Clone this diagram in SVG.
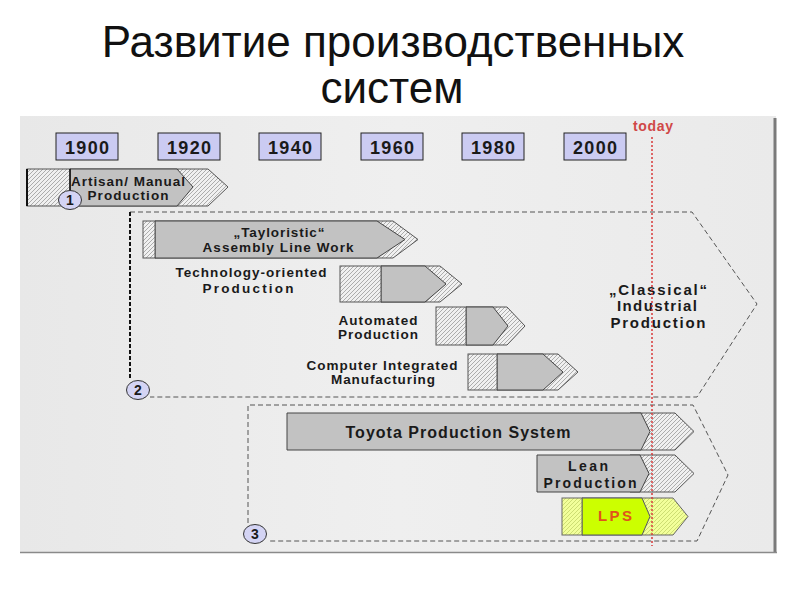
<svg xmlns="http://www.w3.org/2000/svg" width="794" height="595" viewBox="0 0 794 595">
<style>
.t{font-family:"Liberation Sans",Arial,sans-serif;font-weight:bold;fill:#1a1a1a;text-anchor:middle}
.lbl{font-size:13.5px}
.yr rect{fill:#cbcbf2;stroke:#222;stroke-width:1}
.yr text{font-size:18px}
.gray{fill:#c2c2c2;stroke:#444;stroke-width:1}
.hat{fill:url(#hatch);stroke:#555;stroke-width:1}
.yhat{fill:url(#yhatch);stroke:#666;stroke-width:1}
.num ellipse{fill:#d4d4f4;stroke:#333;stroke-width:1}
.num text{font-size:14px}
.dash{fill:none;stroke:#555;stroke-width:1;stroke-dasharray:5 3}
</style>
<defs>
<pattern id="hatch" patternUnits="userSpaceOnUse" width="4" height="4">
<rect width="4" height="4" fill="#f0f0f0"/>
<path d="M-1,1 l2,-2 M0,4 l4,-4 M3,5 l2,-2" stroke="#9a9a9a" stroke-width="0.8"/>
</pattern>
<pattern id="yhatch" patternUnits="userSpaceOnUse" width="4" height="4">
<rect width="4" height="4" fill="#f2ff9a"/>
<path d="M-1,1 l2,-2 M0,4 l4,-4 M3,5 l2,-2" stroke="#c4d46a" stroke-width="0.8"/>
</pattern>
<linearGradient id="bg" x1="0" y1="0" x2="1" y2="0">
<stop offset="0" stop-color="#e8e8e8"/>
<stop offset="0.5" stop-color="#efefef"/>
<stop offset="1" stop-color="#eaeaea"/>
</linearGradient>
</defs>
<rect width="794" height="595" fill="#ffffff"/>
<g id="title" font-family="'Liberation Sans',Arial,sans-serif" font-size="44" fill="#111" text-anchor="middle">
<text x="393" y="57">Развитие производственных</text>
<text x="392" y="103">систем</text>
</g>
<g id="panel">
<rect x="20" y="116" width="756" height="437" fill="url(#bg)"/>
<line x1="775" y1="118" x2="775" y2="553" stroke="#7a7a7a" stroke-width="3"/>
<line x1="20" y1="552.5" x2="777" y2="552.5" stroke="#8a8a8a" stroke-width="1.5"/>
</g>
<g id="years">
<g class="yr" id="y1900"><rect x="56" y="133" width="62" height="27"/><text class="t" x="87" y="154" textLength="44" lengthAdjust="spacing">1900</text></g>
<g class="yr" id="y1920"><rect x="158" y="133" width="62" height="27"/><text class="t" x="189" y="154" textLength="44" lengthAdjust="spacing">1920</text></g>
<g class="yr" id="y1940"><rect x="259" y="133" width="62" height="27"/><text class="t" x="290" y="154" textLength="44" lengthAdjust="spacing">1940</text></g>
<g class="yr" id="y1960"><rect x="361" y="133" width="62" height="27"/><text class="t" x="392" y="154" textLength="44" lengthAdjust="spacing">1960</text></g>
<g class="yr" id="y1980"><rect x="462" y="133" width="62" height="27"/><text class="t" x="493" y="154" textLength="44" lengthAdjust="spacing">1980</text></g>
<g class="yr" id="y2000"><rect x="564" y="133" width="62" height="27"/><text class="t" x="595" y="154" textLength="44" lengthAdjust="spacing">2000</text></g>
</g>
<g id="connectors">
<path class="dash" d="M130,212 H692 L757,304 L697,397 H150"/>
<line x1="130" y1="212" x2="130" y2="380" stroke="#111" stroke-width="2" stroke-dasharray="4 2"/>
<path class="dash" d="M248,523 V405 H693 L728,475 L697,541 H268" stroke="#333" stroke-dasharray="3 2"/>
</g>
<g id="artisan">
<polygon class="hat" points="70,169 208,169 228,187 208,206 70,206"/>
<polygon class="gray" points="70,169 177,169 193,187 177,206 70,206"/>
<rect class="hat" x="27" y="169" width="43" height="37" stroke="#333"/>
<line x1="27" y1="169" x2="27" y2="206" stroke="#111" stroke-width="2"/>
<line x1="70" y1="169" x2="70" y2="206" stroke="#111" stroke-width="1.5"/>
<text class="t lbl" x="128" y="186" textLength="114" lengthAdjust="spacing">Artisan/ Manual</text>
<text class="t lbl" x="128" y="200" textLength="81" lengthAdjust="spacing">Production</text>
</g>
<g id="taylor">
<polygon class="hat" points="155,221 393,221 418,239.5 393,258 155,258"/>
<polygon class="gray" points="155,221 377,221 405,239.5 377,258 155,258"/>
<rect class="hat" x="143" y="221" width="12" height="37"/>
<text class="t lbl" x="279" y="237" textLength="91" lengthAdjust="spacing">„Tayloristic“</text>
<text class="t lbl" x="278" y="252" textLength="151" lengthAdjust="spacing">Assembly Line Work</text>
</g>
<g id="techno">
<polygon class="hat" points="381,266 440,266 462,284 440,302 381,302"/>
<polygon class="gray" points="381,266 425,266 446,284 425,302 381,302"/>
<rect class="hat" x="340" y="266" width="41" height="36"/>
<text class="t lbl" x="251" y="277" textLength="151" lengthAdjust="spacing">Technology-oriented</text>
<text class="t lbl" x="248" y="293" textLength="91" lengthAdjust="spacing">Production</text>
</g>
<g id="automated">
<polygon class="hat" points="466,307 507,307 525,326 507,345 466,345"/>
<polygon class="gray" points="466,307 493,307 508,326 493,345 466,345"/>
<rect class="hat" x="436" y="307" width="30" height="38"/>
<text class="t lbl" x="378" y="325" textLength="79" lengthAdjust="spacing">Automated</text>
<text class="t lbl" x="378" y="339" textLength="80" lengthAdjust="spacing">Production</text>
</g>
<g id="cim">
<polygon class="hat" points="497,354 558,354 578,372 558,390 497,390"/>
<polygon class="gray" points="497,354 543,354 563,372 543,390 497,390"/>
<rect class="hat" x="468" y="354" width="29" height="36"/>
<text class="t lbl" x="382" y="370" textLength="151" lengthAdjust="spacing">Computer Integrated</text>
<text class="t lbl" x="383" y="384" textLength="104" lengthAdjust="spacing">Manufacturing</text>
</g>
<g id="classical">
<text class="t" font-size="15" x="658" y="295" textLength="98" lengthAdjust="spacing">„Classical“</text>
<text class="t" font-size="15" x="657" y="311" textLength="80" lengthAdjust="spacing">Industrial</text>
<text class="t" font-size="15" x="658" y="328" textLength="95" lengthAdjust="spacing">Production</text>
</g>
<g id="toyota">
<polygon class="hat" points="630,413 675,413 694,431.5 675,450 630,450"/>
<polygon class="gray" points="287,413 641,413 650,431.5 641,450 287,450"/>
<text class="t" font-size="16" x="458" y="438" textLength="225" lengthAdjust="spacing">Toyota Production System</text>
</g>
<g id="lean">
<polygon class="hat" points="630,455 675,455 694,473.5 675,492 630,492"/>
<polygon class="gray" points="537,455 640,455 649,473.5 640,492 537,492"/>
<text class="t" font-size="14" x="588" y="471" textLength="40" lengthAdjust="spacing">Lean</text>
<text class="t" font-size="14" x="590" y="488" textLength="93" lengthAdjust="spacing">Production</text>
</g>
<g id="lps">
<polygon class="yhat" points="582,498 673,498 688,516.5 673,535 582,535"/>
<polygon points="582,498 642,498 650,516.5 642,535 582,535" fill="#ccff00" stroke="#556" stroke-width="1"/>
<rect class="yhat" x="562" y="498" width="20" height="37"/>
<text class="t" font-size="15" x="615" y="521" textLength="34" lengthAdjust="spacing" style="fill:#e0541c">LPS</text>
</g>
<g id="today">
<text x="653" y="131" font-family="'Liberation Sans',Arial,sans-serif" font-weight="bold" font-size="14" fill="#d04848" text-anchor="middle" textLength="40" lengthAdjust="spacing">today</text>
<line x1="652" y1="137" x2="652" y2="546" stroke="#d83838" stroke-width="1.5" stroke-dasharray="2 2"/>
</g>
<g id="n1" class="num"><ellipse cx="70" cy="200" rx="11.5" ry="9.5"/><text class="t" x="70" y="205">1</text></g>
<g id="n2" class="num"><ellipse cx="138" cy="390" rx="11.5" ry="9.5"/><text class="t" x="138" y="395">2</text></g>
<g id="n3" class="num"><ellipse cx="255" cy="534" rx="11.5" ry="9.5"/><text class="t" x="255" y="539">3</text></g>
</svg>
